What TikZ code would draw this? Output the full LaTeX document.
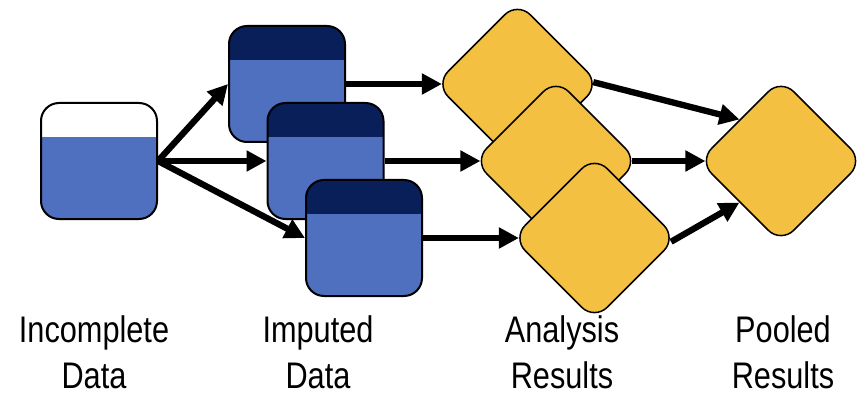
\documentclass[tikz,border=0pt]{standalone}
\usepackage{fontspec}
\newfontfamily\labfont[FakeStretch=0.83]{Liberation Sans}
\usetikzlibrary{arrows.meta}
\definecolor{boxblue}{RGB}{79,112,190}
\definecolor{navy}{RGB}{9,31,90}
\definecolor{gold}{RGB}{243,192,66}
\begin{document}
\begin{tikzpicture}[x=1pt,y=-1pt,
  databox/.style={draw=black, line width=2pt, rectangle, rounded corners=18pt,
    minimum size=116pt, inner sep=0pt, fill=boxblue},
  topband/.style={path picture={\fill[#1, sharp corners] (path picture bounding box.north west)
    rectangle ([yshift=-34pt]path picture bounding box.north east);}},
  resdiamond/.style={draw=black, line width=1.5pt, rectangle, rounded corners=18pt,
    minimum size=116pt, inner sep=0pt, rotate=45, fill=gold},
  arrowline/.style={line width=6.3pt, -{Triangle[length=20pt,width=20pt]}},
  lab/.style={font=\labfont\fontsize{37pt}{46pt}\selectfont, anchor=base, inner sep=0pt}]
\useasboundingbox (0,0) rectangle (868,417);
% data boxes
\node[databox, topband=white] (inc) at (99,161) {};
\node[databox, topband=navy] (imp1) at (287,84) {};
\node[databox, topband=navy] (imp2) at (325.5,161) {};
\node[databox, topband=navy] (imp3) at (364,238) {};
% result diamonds
\node[resdiamond] (res1) at (517.5,84) {};
\node[resdiamond] (res2) at (556,161) {};
\node[resdiamond] (res3) at (594.5,238) {};
\node[resdiamond] (pool) at (781,161) {};
% arrows
\draw[arrowline] (inc.east) -- (imp1.west);
\draw[arrowline] (inc.east) -- (imp2.west);
\draw[arrowline] (inc.east) -- (imp3.west);
\draw[arrowline, shorten >=-7.5pt] (imp1.east) -- (res1.north west);
\draw[arrowline, shorten >=-7.5pt] (imp2.east) -- (res2.north west);
\draw[arrowline, shorten >=-7.5pt] (imp3.east) -- (res3.north west);
\draw[arrowline, shorten <=-7.5pt] (res1.south east) -- (pool.north);
\draw[arrowline, shorten <=-7.5pt, shorten >=-7.5pt] (res2.south east) -- (pool.north west);
\draw[arrowline, shorten <=-7.5pt] (res3.south east) -- (pool.west);
% labels
\node[lab] (l1a) at (94,342) {Incomplete};
\node[lab] (l1b) at (94,388) {Data};
\node[lab] (l2a) at (318,342) {Imputed};
\node[lab] (l2b) at (318,388) {Data};
\node[lab] (l3a) at (562,342) {Analysis};
\node[lab] (l3b) at (562,388) {Results};
\node[lab] (l4a) at (783,342) {Pooled};
\node[lab] (l4b) at (783,388) {Results};
\end{tikzpicture}
\end{document}
